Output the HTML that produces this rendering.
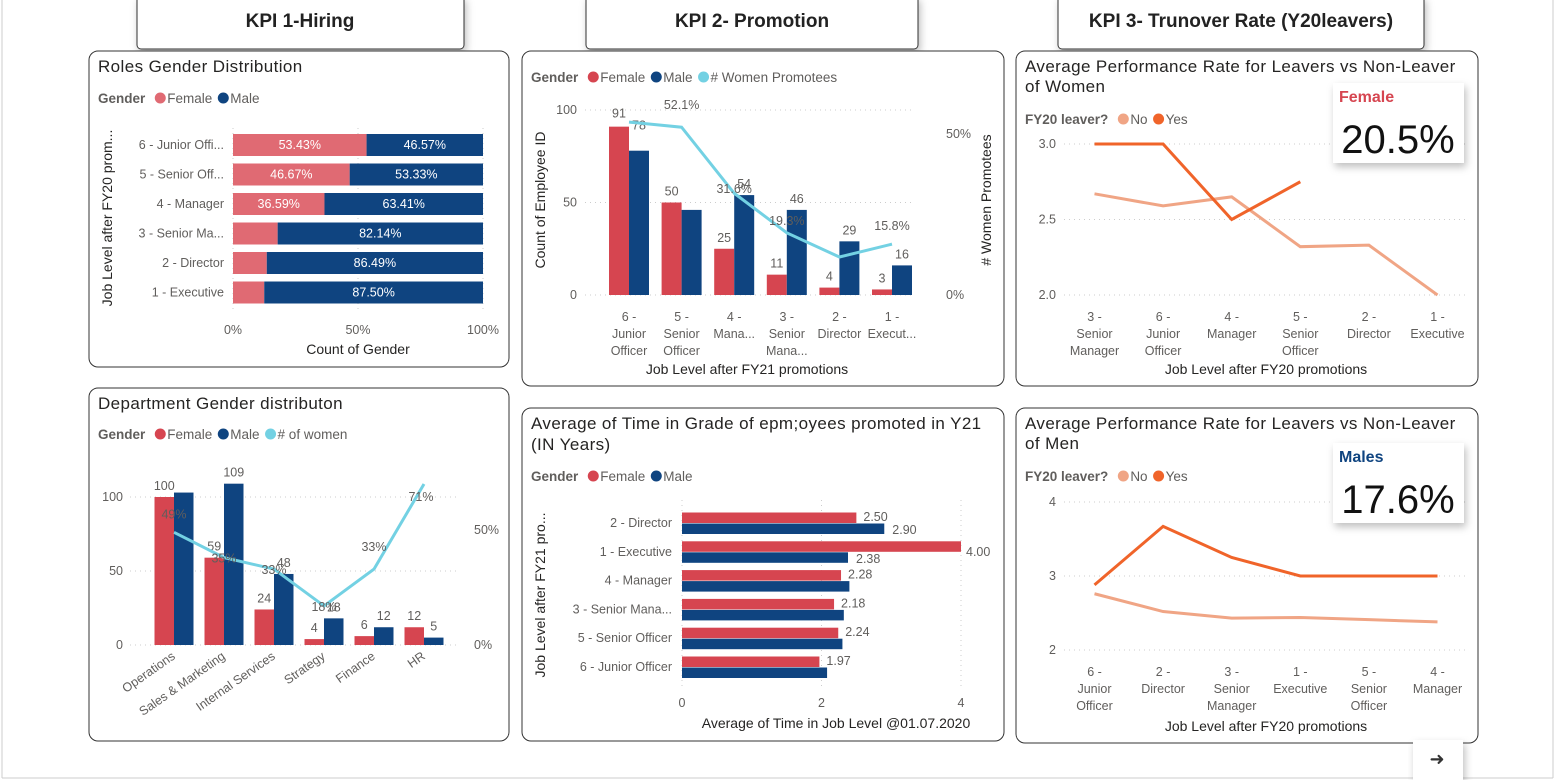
<!DOCTYPE html>
<html><head><meta charset="utf-8">
<style>
html,body{margin:0;padding:0;background:#fff;width:1562px;height:780px;overflow:hidden;font-family:"Liberation Sans",sans-serif}
svg text{font-family:"Liberation Sans",sans-serif}
</style></head>
<body>
<svg id="dash" width="1562" height="780" viewBox="0 0 1562 780" xmlns="http://www.w3.org/2000/svg">
<defs>
<filter id="sh" x="-10%" y="-10%" width="130%" height="140%"><feDropShadow dx="2" dy="4" stdDeviation="4" flood-color="#000" flood-opacity="0.25"/></filter>
</defs>
<line x1="2" y1="0" x2="2" y2="778" stroke="#ccc"/>
<line x1="1553" y1="0" x2="1553" y2="778" stroke="#ccc"/>
<line x1="2" y1="778" x2="1553" y2="778" stroke="#ccc"/>
<g><rect x="137" y="-4" width="327" height="53" rx="4" fill="#fff" stroke="#333" filter="url(#sh)"/><text x="300" y="27" text-anchor="middle" font-size="19" font-weight="bold" fill="#222">KPI 1-Hiring</text></g>
<g><rect x="586" y="-4" width="332" height="53" rx="4" fill="#fff" stroke="#333" filter="url(#sh)"/><text x="752" y="27" text-anchor="middle" font-size="19" font-weight="bold" fill="#222">KPI 2- Promotion</text></g>
<g><rect x="1058" y="-4" width="366" height="53" rx="4" fill="#fff" stroke="#333" filter="url(#sh)"/><text x="1241" y="27" text-anchor="middle" font-size="19" font-weight="bold" fill="#222">KPI 3- Trunover Rate (Y20leavers)</text></g>
<g id="charts"></g>
<g><rect x="1413" y="740" width="50" height="40" fill="#fff" filter="url(#sh)"/><text x="1437" y="765" text-anchor="middle" font-size="18" fill="#333">➜</text></g>
</svg>
<script>
// ---- Data ----
const roleCats=["6 - Junior Offi...","5 - Senior Off...","4 - Manager","3 - Senior Ma...","2 - Director","1 - Executive"];
const roleFemalePct=[53.43,46.67,36.59,17.86,13.51,12.5];
const roleLabelsF=["53.43%","46.67%","36.59%","","",""];
const roleLabelsM=["46.57%","53.33%","63.41%","82.14%","86.49%","87.50%"];
const roleTicks=[0,50,100];

const promoCats=[["6 -","Junior","Officer"],["5 -","Senior","Officer"],["4 -","Mana..."],["3 -","Senior","Mana..."],["2 -","Director"],["1 -","Execut..."]];
const promoFemale=[91,50,25,11,4,3];
const promoMale=[78,46,54,46,29,16];
const promoMaleLabels=["78","","54","46","29","16"];
const promoPct=[53.7,52.1,31.6,19.3,11.8,15.8];
const promoPctLabels=["","52.1%","31.6%","19.3%","","15.8%"];
const promoTicks=[0,50,100];

const deptCats=["Operations","Sales & Marketing","Internal Services","Strategy","Finance","HR"];
const deptFemale=[100,59,24,4,6,12];
const deptMale=[103,109,48,18,12,5];
const deptMaleLabels=["","109","48","18","12","5"];
const deptPct=[49,38,33,17,33,70];
const deptPctLabels=["49%","35%","33%","18%","33%","71%"];
const deptTicks=[0,50,100];

const timeCats=["2 - Director","1 - Executive","4 - Manager","3 - Senior Mana...","5 - Senior Officer","6 - Junior Officer"];
const timeFemale=[2.50,4.00,2.28,2.18,2.24,1.97];
const timeMale=[2.90,2.38,2.40,2.32,2.30,2.08];
const timeMaleLabels=["2.90","2.38","","","",""];
const timeTicks=[0,2,4];

const wCats=[["3 -","Senior","Manager"],["6 -","Junior","Officer"],["4 -","Manager"],["5 -","Senior","Officer"],["2 -","Director"],["1 -","Executive"]];
const wNo=[2.67,2.59,2.65,2.32,2.33,2.0];
const wYes=[3.0,3.0,2.5,2.75];
const wTicks=[2.0,2.5,3.0];

const mCats=[["6 -","Junior","Officer"],["2 -","Director"],["3 -","Senior","Manager"],["1 -","Executive"],["5 -","Senior","Officer"],["4 -","Manager"]];
const mNo=[2.76,2.52,2.43,2.44,2.41,2.38];
const mYes=[2.88,3.67,3.25,3.0,3.0,3.0];
const mTicks=[2,3,4];

const FEM="#D64550",FEM2="#E06A73",MAL="#0F4480",CY="#73D1E3",OR="#F0642A",LO="#F0A585",GR="#605E5C";
const TS=12.5;
const root=document.getElementById('charts');
const NS="http://www.w3.org/2000/svg";
function mk(tag,attrs,parent){const e=document.createElementNS(NS,tag);for(const k in attrs)e.setAttribute(k,attrs[k]);(parent||root).appendChild(e);return e;}
function txt(x,y,s,size,fill,anchor,parent,weight){const t=mk('text',{x:x,y:y,'font-size':size,fill:fill,'text-anchor':anchor||'start','font-weight':weight||'normal'},parent);t.textContent=s;return t;}
function ttl(x,y,s,parent){const t=txt(x,y,s,17,'#252423','start',parent);t.setAttribute('letter-spacing','0.4');return t;}
function grp(name){const g=mk('g',{});return g;}
function panel(name,x,y,w,h){const g=grp(name);mk('rect',{x:x,y:y,width:w,height:h,rx:9,fill:'#fff',stroke:'#333','stroke-width':1},g);return g;}
function grid(g,x1,x2,y){mk('line',{x1:x1,x2:x2,y1:y,y2:y,stroke:'#ccc','stroke-dasharray':'1 4'},g);}
function vgrid(g,x,y1,y2){mk('line',{x1:x,x2:x,y1:y1,y2:y2,stroke:'#ccc','stroke-dasharray':'1 4'},g);}
function legend(g,x,y,title,items){const lg=mk('g',{},g);
 const t=txt(x,y+5,title,13.5,GR,'start',lg,'bold');let cx=x+t.getComputedTextLength()+10;
 items.forEach(it=>{const e=mk('g',{},lg);mk('circle',{cx:cx+5,cy:y,r:5.5,fill:it[1]},e);const tt=txt(cx+12,y+5,it[0],13.5,GR,'start',e);cx+=12+tt.getComputedTextLength()+6;});}
function pathFrom(pts){return pts.map((p,i)=>(i?'L':'M')+p[0]+' '+p[1]).join(' ');}

// ---- Panel 1: Roles ----
(function(){const g=panel('roles-gender-panel',89,51,420,316);
 ttl(98,72,'Roles Gender Distribution',g);
 legend(g,98,98,'Gender',[['Female',FEM2],['Male',MAL]]);
 const x0=233,x1=483,xs=v=>x0+(x1-x0)*v/100,y0=145,dy=29.5,bh=22;
 roleTicks.forEach(t=>{vgrid(g,xs(t),128,310);const l=txt(xs(t),334,t+'%',TS,GR,'middle',g);});
 roleCats.forEach((c,i)=>{const yc=y0+i*dy;const l=txt(224,yc+4,c,TS,GR,'end',g);
  const bf=mk('rect',{x:x0,y:yc-bh/2,width:xs(roleFemalePct[i])-x0,height:bh,fill:FEM2},g);
  const bm=mk('rect',{x:xs(roleFemalePct[i]),y:yc-bh/2,width:x1-xs(roleFemalePct[i]),height:bh,fill:MAL},g);
  if(roleLabelsF[i])txt((x0+xs(roleFemalePct[i]))/2,yc+4,roleLabelsF[i],TS,'#fff','middle',g);
  txt((xs(roleFemalePct[i])+x1)/2,yc+4,roleLabelsM[i],TS,'#fff','middle',g);});
 const at=txt(358,354,'Count of Gender',14,'#252423','middle',g);
 const yt=txt(0,0,'Job Level after FY20 prom...',14,'#252423','middle',g);yt.setAttribute('transform','translate(112,218) rotate(-90)');
})();

// ---- Panel 2: Promotion ----
(function(){const g=panel('promotion-panel',522,51,482,335);
 legend(g,531,77,'Gender',[['Female',FEM],['Male',MAL],['# Women Promotees',CY]]);
 const y0=295,ys=v=>y0-v*1.85,yp=p=>y0-p*3.22,cx0=629,dx=52.6,bw=20;
 promoTicks.forEach(t=>{grid(g,585,912,ys(t));const l=txt(577,ys(t)+4,t,TS,GR,'end',g);});
 [0,50].forEach(p=>{const l=txt(946,yp(p)+4,p+'%',TS,GR,'start',g);});
 const pts=[];
 promoCats.forEach((c,i)=>{const cx=cx0+i*dx;
  const bf=mk('rect',{x:cx-bw,y:ys(promoFemale[i]),width:bw,height:y0-ys(promoFemale[i]),fill:FEM},g);
  const bm=mk('rect',{x:cx,y:ys(promoMale[i]),width:bw,height:y0-ys(promoMale[i]),fill:MAL},g);
  txt(cx-bw/2,ys(promoFemale[i])-(i==0?-4:7)-(i==0?13:0)-(i==0?0:0),promoFemale[i],TS,GR,'middle',g);
  if(promoMaleLabels[i])txt(cx+bw/2+(i==0?0:0),ys(promoMale[i])-(i==0?21:7),promoMaleLabels[i],TS,GR,'middle',g);
  c.forEach((s,k)=>txt(cx,338+k*17-17,s,TS,GR,'middle',g));
  pts.push([cx,yp(promoPct[i])]);});
 const ln=mk('path',{d:pathFrom(pts),fill:'none',stroke:CY,'stroke-width':3},g);
 promoPctLabels.forEach((s,i)=>{if(s)txt(pts[i][0],pts[i][1]-(i==1?18:-0)+(i==2?-0:0)-(i==5?14:0)+(i==3?-8:0),s,TS,GR,'middle',g);});
 const at=txt(747,374,'Job Level after FY21 promotions',14,'#252423','middle',g);
 const yt=txt(0,0,'Count of Employee ID',14,'#252423','middle',g);yt.setAttribute('transform','translate(545,200) rotate(-90)');
 const y2=txt(0,0,'# Women Promotees',14,'#252423','middle',g);y2.setAttribute('transform','translate(991,200) rotate(-90)');
})();

// ---- Panel 3: Department ----
(function(){const g=panel('department-panel',89,388,420,353);
 ttl(98,409,'Department Gender distributon',g);
 legend(g,98,434,'Gender',[['Female',FEM],['Male',MAL],['# of women',CY]]);
 const y0=645,ys=v=>y0-v*1.48,yp=p=>y0-p*2.3,cx0=174,dx=50,bw=19.5;
 deptTicks.forEach(t=>{grid(g,130,460,ys(t));const l=txt(123,ys(t)+4,t,TS,GR,'end',g);});
 [0,50].forEach(p=>{const l=txt(474,yp(p)+4,p+'%',TS,GR,'start',g);});
 const pts=[];
 deptCats.forEach((c,i)=>{const cx=cx0+i*dx;
  const bf=mk('rect',{x:cx-bw,y:ys(deptFemale[i]),width:bw,height:y0-ys(deptFemale[i]),fill:FEM},g);
  const bm=mk('rect',{x:cx,y:ys(deptMale[i]),width:bw,height:y0-ys(deptMale[i]),fill:MAL},g);
  txt(cx-bw/2,ys(deptFemale[i])-7,deptFemale[i],TS,GR,'middle',g);
  if(deptMaleLabels[i])txt(cx+bw/2,ys(deptMale[i])-7,deptMaleLabels[i],TS,GR,'middle',g);
  const l=txt(0,0,c,TS,GR,'end',g);l.setAttribute('transform','translate('+(cx+2)+',658) rotate(-35)');
  pts.push([cx,yp(deptPct[i])]);});
 const ln=mk('path',{d:pathFrom(pts),fill:'none',stroke:CY,'stroke-width':3},g);
 deptPctLabels.forEach((s,i)=>txt(pts[i][0]+(i==5?-3:0),pts[i][1]-(i==0?14:i==5?-17:i==4?-0:-5)-(i==4?18:0),s,TS,GR,'middle',g));
})();

// ---- Panel 4: Time in grade ----
(function(){const g=panel('time-in-grade-panel',522,408,482,333);
 ttl(531,429,'Average of Time in Grade of epm;oyees promoted in Y21',g);
 ttl(531,450,'(IN Years)',g);
 legend(g,531,476,'Gender',[['Female',FEM],['Male',MAL]]);
 const x0=682,xs=v=>x0+v*69.75,y0=523,dy=28.8,bh=10.5;
 timeTicks.forEach(t=>{vgrid(g,xs(t),500,690);const l=txt(xs(t),707,t,TS,GR,'middle',g);});
 timeCats.forEach((c,i)=>{const yc=y0+i*dy;const l=txt(672,yc+4,c,TS,GR,'end',g);
  const bf=mk('rect',{x:x0,y:yc-bh,width:xs(timeFemale[i])-x0,height:bh,fill:FEM},g);
  const bm=mk('rect',{x:x0,y:yc+0.5,width:xs(timeMale[i])-x0,height:bh,fill:MAL},g);
  txt(xs(timeFemale[i])+(i==1?5:7),yc+(i==1?4:-2),timeFemale[i].toFixed(2),TS,GR,'start',g);
  if(timeMaleLabels[i])txt(xs(timeMale[i])+8,yc+11,timeMaleLabels[i],TS,GR,'start',g);});
 const at=txt(836,728,'Average of Time in Job Level @01.07.2020',14,'#252423','middle',g);
 const yt=txt(0,0,'Job Level after FY21 pro...',14,'#252423','middle',g);yt.setAttribute('transform','translate(545,595) rotate(-90)');
})();

// ---- Line panels ----
function linePanel(name,py,title2,cats,no,yes,ticks,ys,yBot,yTop,cardLabel,cardColor,cardVal){
 const g=panel(name,1016,py,462,335);
 ttl(1025,py+21,'Average Performance Rate for Leavers vs Non-Leaver',g);
 ttl(1025,py+41,title2,g);
 legend(g,1025,py+68,'FY20 leaver?',[['No',LO],['Yes',OR]]);
 const cx0=1094.5,dx=68.6;
 ticks.forEach(t=>{grid(g,1064,1466,ys(t));const l=txt(1056,ys(t)+4,(ticks[1]%1?t.toFixed(1):t),TS,GR,'end',g);});
 cats.forEach((c,i)=>c.forEach((s,k)=>txt(cx0+i*dx,yBot+k*17,s,TS,GR,'middle',g)));
 const pn=no.map((v,i)=>[cx0+i*dx,ys(v)]),py2=yes.map((v,i)=>[cx0+i*dx,ys(v)]);
 const l1=mk('path',{d:pathFrom(pn),fill:'none',stroke:LO,'stroke-width':3},g);
 const l2=mk('path',{d:pathFrom(py2),fill:'none',stroke:OR,'stroke-width':3},g);
 const at=txt(1266,py+323,'Job Level after FY20 promotions',14,'#252423','middle',g);
 const cd=grp('turnover-card');root.appendChild(cd);
 mk('rect',{x:1333,y:yTop,width:131,height:80,fill:'#fff',filter:'url(#sh)'},cd);
 txt(1339,yTop+19,cardLabel,16,cardColor,'start',cd,'bold');
 txt(1398,yTop+70,cardVal,40,'#111','middle',cd);
}
linePanel('women-performance-panel',51,'of Women',wCats,wNo,wYes,wTicks,v=>295-(v-2)*151,321,83,'Female','#D64550','20.5%');
linePanel('men-performance-panel',408,'of Men',mCats,mNo,mYes,mTicks,v=>650-(v-2)*74,676,443,'Males','#0F4480','17.6%');
</script>
</body></html>
